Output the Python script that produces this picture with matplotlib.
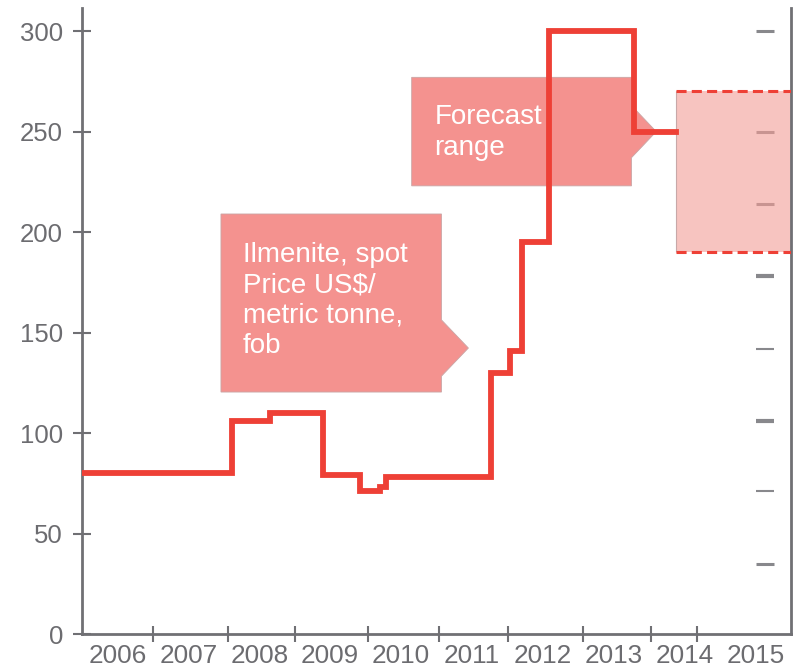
import matplotlib.pyplot as plt
import matplotlib.transforms as mtransforms
from matplotlib.patches import Polygon

plt.rcParams['font.family'] = ['Liberation Sans', 'DejaVu Sans']

# ilmenite spot price, US$/metric tonne fob, each value holds until the next date
dates = [2006.0, 2008.11, 2008.65, 2009.40, 2009.92, 2010.20, 2010.29,
         2011.77, 2012.04, 2012.20, 2012.59, 2013.79, 2014.38]
prices = [80, 106, 110, 79, 71, 73, 78, 130, 141, 195, 300, 250, 250]

forecast_low = 190
forecast_high = 270

years = list(range(2006, 2016))
year_ticks = [2007.0, 2008.06, 2009.0, 2010.03, 2011.04, 2012.01, 2013.06, 2014.03, 2014.68]
y_ticks = [0, 50, 100, 150, 200, 250, 300]
right_marks = [35, 71, 106, 142, 178, 214, 250, 300]
right_widths = [2.2, 1.5, 3.0, 1.5, 3.0, 2.2, 2.2, 2.2]

red = '#EE4036'
grey = '#707074'
label_grey = '#6c6c70'

fig = plt.figure(figsize=(8.02, 6.72), dpi=100)
ax = fig.add_axes([82 / 802, 38 / 672, 709 / 802, 626 / 672])

# short marks near the right edge
trans = mtransforms.blended_transform_factory(ax.transAxes, ax.transData)
ax.hlines(right_marks, 0.951, 0.976, transform=trans, colors='#88888c',
          linewidths=right_widths, zorder=1)

# forecast band
x_start = dates[-1]
ax.fill_between([x_start, 2016], forecast_low, forecast_high,
                color=(243 / 255, 157 / 255, 150 / 255), alpha=0.6, lw=0, zorder=2)
ax.vlines(x_start, forecast_low, forecast_high, colors='#c8a8a8', lw=0.8, zorder=2)
ax.hlines([forecast_low, forecast_high], x_start, 2016, colors=red, lw=2.2,
          linestyles=(0, (3.3, 1.7)), zorder=3)

# price line
ax.step(dates, prices, where='post', color=red, lw=4.2, zorder=5,
        solid_joinstyle='miter')


def callout(x0, x1, y0, y1, tip_x, tip_y, half):
    pts = [(x0, y0), (x1, y0), (x1, tip_y - half), (tip_x, tip_y),
           (x1, tip_y + half), (x1, y1), (x0, y1)]
    ax.add_patch(Polygon(pts, closed=True, facecolor='#F4928F',
                         edgecolor='#c9a5a5', lw=0.6, zorder=4))


callout(2007.96, 2011.07, 120.4, 209, 2011.45, 142.3, 14)
ax.text(2008.27, 195, 'Ilmenite, spot\nPrice US$/\nmetric tonne,\nfob',
        color='white', fontsize=20, va='top', ha='left', linespacing=1.21, zorder=6)

callout(2010.65, 2013.75, 223, 277, 2014.10, 250, 13)
ax.text(2010.97, 263.5, 'Forecast\nrange', color='white', fontsize=20,
        va='top', ha='left', linespacing=1.21, zorder=4.5)

ax.set_xlim(2006, 2016)
ax.set_ylim(0, 311.5)

ax.set_yticks(y_ticks)
ax.set_xticks(year_ticks)
ax.set_xticklabels([])
ax.set_xticks([y + 0.5 for y in years], minor=True)
ax.set_xticklabels([str(y) for y in years], minor=True)

ax.tick_params(axis='y', direction='inout', length=13.5, width=1.5, colors=grey,
               labelcolor=label_grey, labelsize=18.5, pad=7)
ax.tick_params(axis='x', which='major', direction='inout', length=12, width=1.5,
               colors=grey)
ax.tick_params(axis='x', which='minor', length=0, labelcolor=label_grey,
               labelsize=18.8, pad=7.5)

for side in ['left', 'bottom', 'right']:
    ax.spines[side].set_color(grey)
    ax.spines[side].set_linewidth(2)
ax.spines['top'].set_visible(False)

fig.savefig('out.png', dpi=100)
